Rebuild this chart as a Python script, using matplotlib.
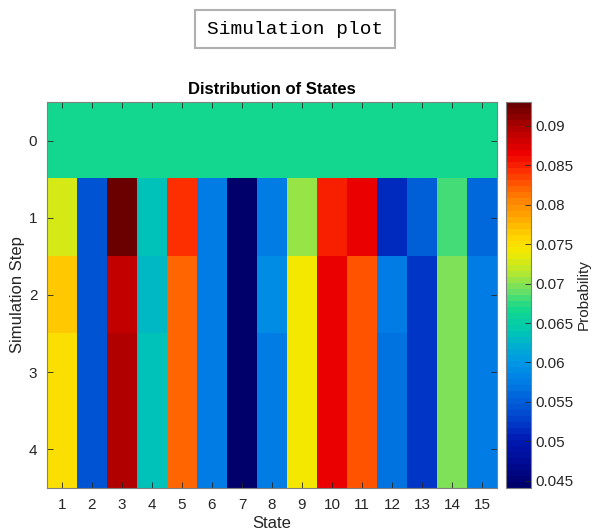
import numpy as np
import matplotlib
matplotlib.use("Agg")
import matplotlib.pyplot as plt
from matplotlib.colors import LinearSegmentedColormap, ListedColormap
from matplotlib.patches import Rectangle

plt.rcParams["font.family"] = ["Liberation Sans", "DejaVu Sans"]

# Probabilidad de cada estado por paso de simulación
estados = list(range(1, 16))
pasos = [0, 1, 2, 3, 4]
paso_0 = [1 / 15] * 15
paso_1 = [0.0730, 0.0544, 0.0930, 0.0637, 0.0843, 0.0576, 0.0441, 0.0578,
          0.0708, 0.0850, 0.0867, 0.0517, 0.0549, 0.0684, 0.0556]
paso_2 = [0.0762, 0.0544, 0.0889, 0.0627, 0.0821, 0.0576, 0.0441, 0.0588,
          0.0745, 0.0862, 0.0826, 0.0576, 0.0520, 0.0700, 0.0576]
paso_3 = [0.0752, 0.0544, 0.0894, 0.0635, 0.0821, 0.0576, 0.0441, 0.0578,
          0.0745, 0.0862, 0.0826, 0.0566, 0.0520, 0.0700, 0.0576]
paso_4 = [0.0752, 0.0544, 0.0894, 0.0635, 0.0821, 0.0576, 0.0441, 0.0578,
          0.0745, 0.0862, 0.0826, 0.0566, 0.0520, 0.0700, 0.0576]

datos = np.array([paso_0, paso_1, paso_2, paso_3, paso_4])

# colores del mapa tipo jet (posición, rgb)
nodos_jet = [
    (0.000, (0.00, 0.00, 0.42)),
    (0.067, (0.00, 0.05, 0.60)),
    (0.119, (0.00, 0.10, 0.70)),
    (0.171, (0.00, 0.25, 0.80)),
    (0.223, (0.00, 0.38, 0.85)),
    (0.275, (0.00, 0.50, 0.90)),
    (0.326, (0.00, 0.60, 0.90)),
    (0.370, (0.00, 0.70, 0.80)),
    (0.404, (0.00, 0.78, 0.70)),
    (0.462, (0.08, 0.85, 0.55)),
    (0.518, (0.45, 0.88, 0.38)),
    (0.562, (0.72, 0.91, 0.18)),
    (0.614, (0.95, 0.92, 0.00)),
    (0.648, (1.00, 0.85, 0.00)),
    (0.707, (1.00, 0.65, 0.00)),
    (0.769, (1.00, 0.45, 0.00)),
    (0.824, (1.00, 0.20, 0.00)),
    (0.873, (0.93, 0.00, 0.00)),
    (0.925, (0.75, 0.00, 0.00)),
    (1.000, (0.42, 0.00, 0.00)),
]
continuo = LinearSegmentedColormap.from_list("jet_suave", nodos_jet)
mapa = ListedColormap(continuo(np.linspace(0, 1, 64)))

fig = plt.figure(figsize=(5.92, 5.32), dpi=100)
gris = "#262626"

ax = fig.add_axes([0.0794, 0.0827, 0.760, 0.7256])
im = ax.imshow(datos, cmap=mapa, aspect="auto", interpolation="nearest",
               extent=[0.5, 15.5, 4.5, -0.5])
ax.set_xticks(estados)
ax.set_yticks(pasos)
ax.tick_params(direction="in", top=True, right=True, length=4, width=0.6,
               colors=gris, labelsize=11, pad=7)
for s in ax.spines.values():
    s.set_color("#808080")
    s.set_linewidth(0.8)
ax.set_xlabel("State", fontsize=12, color=gris, labelpad=3)
ax.set_ylabel("Simulation Step", fontsize=12, color=gris, labelpad=3)
ax.set_title("Distribution of States", fontsize=12, fontweight="bold", pad=6)

cax = fig.add_axes([0.8547, 0.0827, 0.0422, 0.7256])
cb = fig.colorbar(im, cax=cax)
cb.set_ticks([0.045, 0.05, 0.055, 0.06, 0.065, 0.07, 0.075, 0.08, 0.085, 0.09])
cb.ax.set_yticklabels(["0.045", "0.05", "0.055", "0.06", "0.065", "0.07",
                       "0.075", "0.08", "0.085", "0.09"])
cb.ax.tick_params(direction="in", length=4, width=0.6, colors=gris, labelsize=11)
cb.outline.set_edgecolor("#808080")
cb.outline.set_linewidth(0.8)
cb.set_label("Probability", fontsize=11, color=gris, labelpad=2)

# caja del título superior
fig.patches.append(Rectangle((0.329, 0.910), 0.338, 0.0714, transform=fig.transFigure,
                             fc="white", ec="#b0b0b0", lw=1.5))
fig.text(0.498, 0.944, "Simulation plot", ha="center", va="center",
         fontsize=14, family="Liberation Mono")

fig.savefig("out.png", dpi=100)
